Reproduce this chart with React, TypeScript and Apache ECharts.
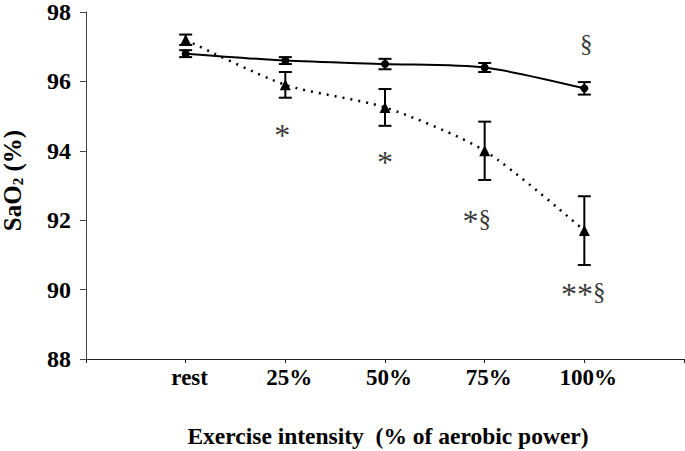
import React, { useEffect, useRef } from "react";
import * as echarts from "echarts";

const categories = ["rest", "25%", "50%", "75%", "100%"];
const normoxiaMean = [96.8, 96.6, 96.5, 96.4, 95.8];
const normoxiaErr = [0.1, 0.1, 0.15, 0.13, 0.18];
const hypoxiaMean = [97.2, 95.9, 95.25, 94.0, 91.7];
const hypoxiaErr = [0.15, 0.37, 0.53, 0.84, 0.99];
const yMin = 88;
const yMax = 98;
const yStep = 2;
// annotation: position on the category scale (rest = 1), y value, text
const annotPos = [1.97, 3.0, 3.92, 4.99, 5.02];
const annotY = [94.55, 93.75, 92.05, 89.95, 97.1];
const annotText = ["*", "*", "*§", "**§", "§"];

const FONT = "'Liberation Serif', 'Times New Roman', serif";

const toRich = (t: string) =>
  t
    .split("")
    .map((c) => (c === "*" ? "{a|*}" : "{s|" + c + "}"))
    .join("");

export default function App() {
  const ref = useRef<HTMLDivElement>(null);
  useEffect(() => {
    if (!ref.current) return;
    const chart = echarts.init(ref.current, undefined, { renderer: "svg" });
    const pos = (i: number) => i + 1;
    const errSeries = (mean: number[], err: number[]) => ({
      type: "custom",
      z: 3,
      renderItem: (_p: any, api: any) => {
        const x = api.value(0);
        const y = api.value(1);
        const e = api.value(2);
        const top = api.coord([x, y + e]);
        const bot = api.coord([x, y - e]);
        const hw = 6.5;
        const st = { stroke: "#000", lineWidth: 2 };
        return {
          type: "group",
          children: [
            { type: "line", shape: { x1: top[0], y1: top[1], x2: bot[0], y2: bot[1] }, style: st },
            { type: "line", shape: { x1: top[0] - hw, y1: top[1], x2: top[0] + hw, y2: top[1] }, style: st },
            { type: "line", shape: { x1: bot[0] - hw, y1: bot[1], x2: bot[0] + hw, y2: bot[1] }, style: st },
          ],
        };
      },
      data: mean.map((v, i) => [pos(i), v, err[i]]),
    });
    chart.setOption({
      animation: false,
      backgroundColor: "#fff",
      grid: { left: 86, right: 1, top: 12, bottom: 92, outerBoundsMode: "none", containLabel: false },
      xAxis: {
        type: "value",
        min: 0,
        max: 6,
        interval: 1,
        name: "Exercise intensity  (% of aerobic power)",
        nameLocation: "middle",
        nameGap: 65,
        nameTextStyle: { fontFamily: FONT, fontWeight: "bold", fontSize: 23.5, color: "#000", padding: [0, 0, 0, 6] },
        axisLine: { lineStyle: { color: "#222", width: 1 } },
        axisTick: { show: true, inside: false, length: 4, lineStyle: { color: "#222" } },
        splitLine: { show: false },
        axisLabel: {
          margin: 7,
          padding: [0, 0, 0, 8],
          fontFamily: FONT,
          fontWeight: "bold",
          fontSize: 23,
          color: "#000",
          formatter: (v: number) => (v >= 1 && v <= categories.length ? categories[v - 1] : ""),
        },
      },
      yAxis: {
        type: "value",
        min: yMin,
        max: yMax,
        interval: yStep,
        name: "SaO{sub|2} (%)",
        nameLocation: "middle",
        nameRotate: 90,
        nameGap: 61,
        nameTextStyle: {
          fontFamily: FONT,
          fontWeight: "bold",
          fontSize: 25,
          color: "#000",
          padding: [0, 0, 0, 10],
          rich: {
            sub: { fontFamily: FONT, fontWeight: "bold", fontSize: 15, color: "#000", verticalAlign: "bottom" },
          },
        },
        axisLine: { show: true, lineStyle: { color: "#444", width: 1 } },
        axisTick: { show: true, inside: false, length: 6, lineStyle: { color: "#444" } },
        splitLine: { show: false },
        axisLabel: { margin: 15, fontFamily: FONT, fontWeight: "bold", fontSize: 24, color: "#000" },
      },
      series: [
        {
          type: "line",
          data: normoxiaMean.map((v, i) => [pos(i), v]),
          smooth: 0.25,
          symbol: "circle",
          symbolSize: 8,
          itemStyle: { color: "#000" },
          lineStyle: { color: "#000", width: 2 },
          z: 4,
        },
        {
          type: "line",
          data: hypoxiaMean.map((v, i) => [pos(i), v]),
          smooth: 0.25,
          symbol: "triangle",
          symbolSize: 11,
          itemStyle: { color: "#000" },
          lineStyle: { color: "#000", width: 2.5, type: [2, 6] },
          z: 4,
        },
        errSeries(normoxiaMean, normoxiaErr),
        errSeries(hypoxiaMean, hypoxiaErr),
        {
          type: "scatter",
          symbolSize: 0,
          silent: true,
          itemStyle: { color: "#000" },
          data: annotText.map((t, i) => ({ value: [annotPos[i], annotY[i]], name: t })),
          label: {
            show: true,
            position: "inside",
            formatter: (p: any) => toRich(p.name),
            color: "#000",
            textBorderWidth: 0,
            rich: {
              a: { fontFamily: FONT, fontSize: 32, color: "#000", textBorderWidth: 0, verticalAlign: "top", lineHeight: 26 },
              s: { fontFamily: FONT, fontSize: 25, color: "#000", textBorderWidth: 0, lineHeight: 26 },
            },
          },
        },
      ],
    });
    return () => chart.dispose();
  }, []);
  return (
    <div
      ref={ref}
      style={{ position: "fixed", left: 0, top: 0, width: 685, height: 451, background: "#fff" }}
    />
  );
}
